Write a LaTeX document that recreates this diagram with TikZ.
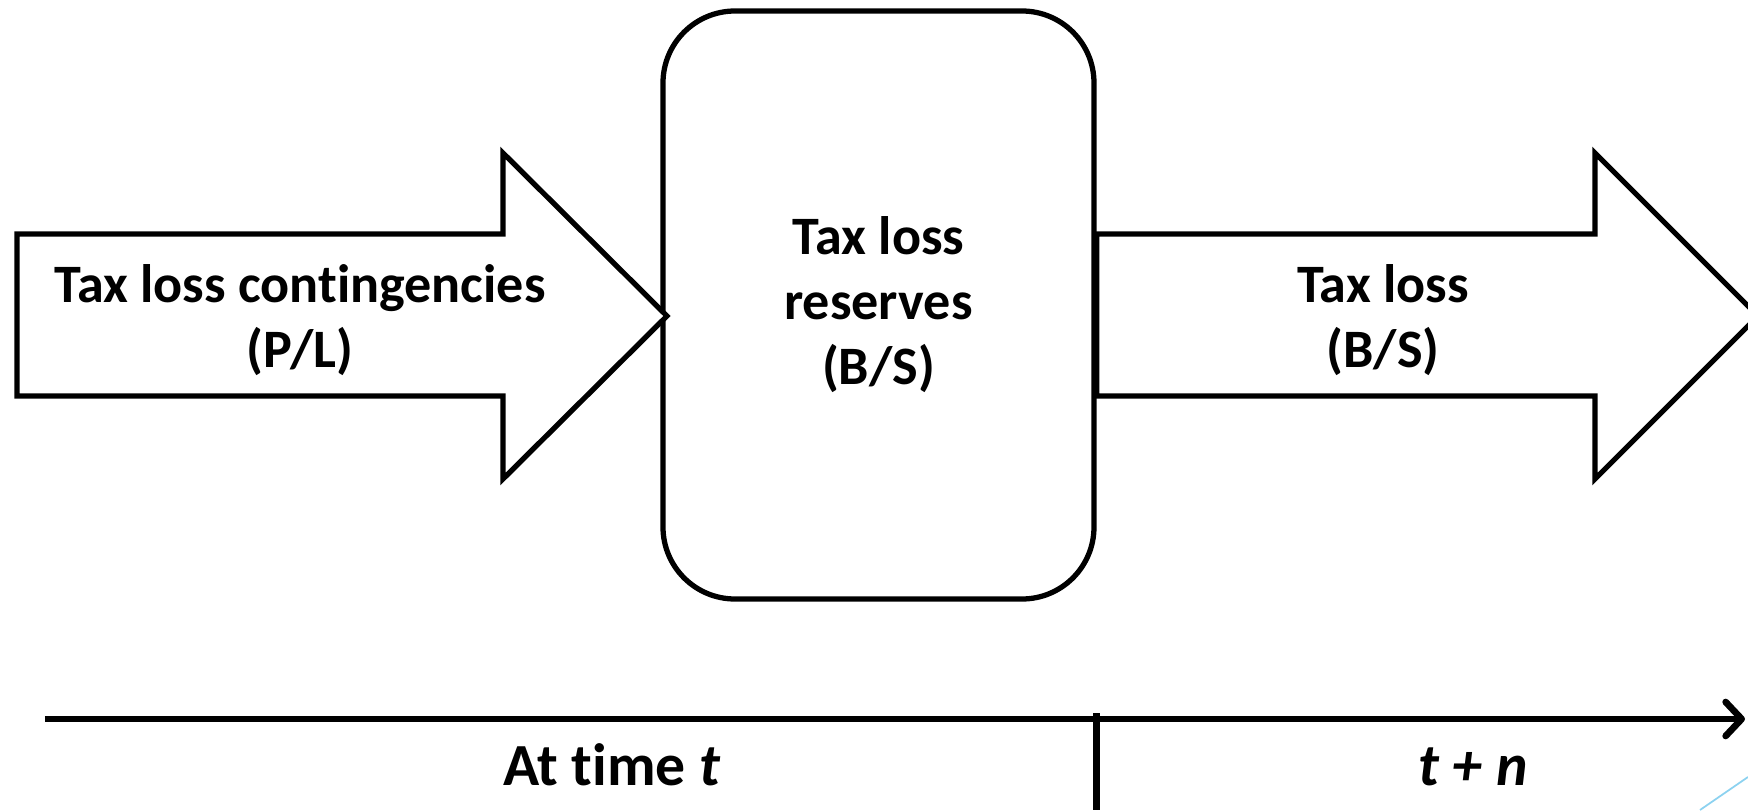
\documentclass[tikz,border=0pt]{standalone}
\usepackage{fontspec}
\setmainfont{Carlito}[Ligatures=NoCommon]
\usetikzlibrary{arrows.meta,calc,positioning}
\definecolor{deco}{RGB}{140,210,240}

\begin{document}
\begin{tikzpicture}[font=\fontsize{15.4}{18.5}\selectfont\bfseries,
  fat/.style={draw=black,line width=1.5pt,line join=miter,fill=white},
  resbox/.style={draw=black,line width=1.5pt,rounded corners=0.72cm,minimum width=4.31cm,minimum height=5.88cm,align=center,inner sep=0pt},
  lab/.style={align=center,inner sep=0pt},
  tlab/.style={lab,anchor=base,font=\fontsize{17}{20}\selectfont\bfseries},
  axis/.style={line width=1.9pt}]
\useasboundingbox (0,0) rectangle (17.48,8.10);

% ---------- the reserve box ----------
\node[resbox] (res) at (8.785,5.05) {Tax loss\\reserves\\(B/S)};

% ---------- block arrows in and out ----------
\draw[fat] (0.17,5.76) -- (5.03,5.76) -- (5.03,6.57) -- (6.67,4.94) -- (5.03,3.31) -- (5.03,4.14) -- (0.17,4.14) -- cycle;
\draw[fat] (res.east |- 0,5.76) -- (15.95,5.76) -- (15.95,6.57) -- (17.58,4.94) -- (15.95,3.31) -- (15.95,4.14) -- (res.east |- 0,4.14) -- cycle;
\node[lab] (cont) at (3.00,4.90) {Tax loss contingencies\\(P/L)};
\node[lab] (loss) at (13.83,4.90) {Tax loss\\(B/S)};

% ---------- time line ----------
\coordinate (t0) at (0.45,0.91);
\coordinate (t1) at (17.45,0.91);
\draw[axis,-{Straight Barb[length=0.16cm,width=0.34cm,round]}] (t0) -- (t1);
\draw[axis] (res.east |- 0,0.97) -- (res.east |- 0,0);
\node[tlab] (now) at (6.12,0.25) {At time \textit{t}};
\node[tlab] (later) at (14.73,0.25) {\textit{t + n}};

% corner stroke
\draw[deco,line width=0.5pt] (17.00,0) -- (17.48,0.33);
\end{tikzpicture}
\end{document}
